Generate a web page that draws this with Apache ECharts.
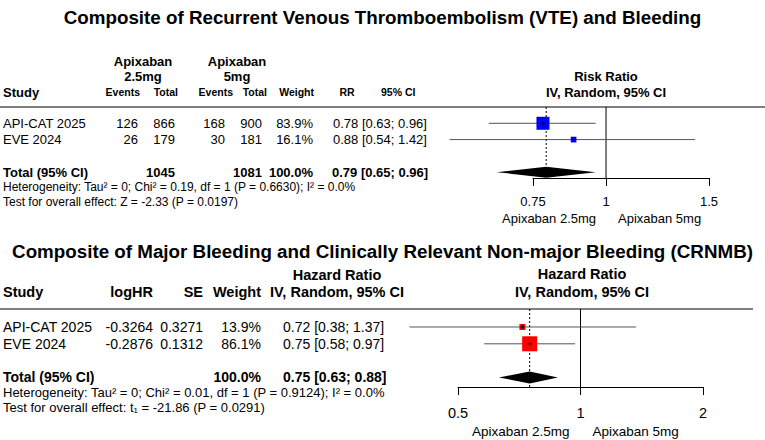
<!DOCTYPE html>
<html lang="en">
<head>
<meta charset="UTF-8">
<title>Apixaban forest plots</title>
<script src="https://cdn.jsdelivr.net/npm/echarts@6/dist/echarts.min.js"></script>
<style>
  html, body { margin: 0; padding: 0; background: #fff; }
  #chart { width: 765px; height: 440px; }
</style>
</head>
<body>
<div id="chart"></div>
<script>
// ---- upper panel: recurrent VTE and bleeding ----
var studies = ['API-CAT 2025', 'EVE 2024'];
var vteEvents25 = [126, 26];
var vteTotal25 = [866, 179];
var vteEvents5 = [168, 30];
var vteTotal5 = [900, 181];
var vteTotals = [1045, 1081];
var vteWeight = [83.9, 16.1];
var vteRR = [0.78, 0.88];
var vteLow = [0.63, 0.54];
var vteHigh = [0.96, 1.42];
var vtePooled = [0.79, 0.65, 0.96]; // est, lower, upper
var vteTicks = [0.75, 1, 1.5];
var vteHet = 'Heterogeneity: Tau² = 0; Chi² = 0.19, df = 1 (P = 0.6630); I² = 0.0%';
var vteTest = 'Test for overall effect: Z = -2.33 (P = 0.0197)';

// ---- lower panel: major bleeding + CRNMB ----
var blLogHR = ['-0.3264', '-0.2876'];
var blSE = ['0.3271', '0.1312'];
var blWeight = [13.9, 86.1];
var blHR = [0.72, 0.75];
var blLow = [0.38, 0.58];
var blHigh = [1.37, 0.97];
var blPooled = [0.75, 0.63, 0.88];
var blTicks = [0.5, 1, 2];
var blHet = 'Heterogeneity: Tau² = 0; Chi² = 0.01, df = 1 (P = 0.9124); I² = 0.0%';
var blTest = 'Test for overall effect: t₁ = -21.86 (P = 0.0291)';

var rows = [1, 2];
var totalRow = 4;
var FONT = '"Liberation Sans", Arial, Helvetica, sans-serif';

function f2(v) { return v.toFixed(2); }
function ciText(e, l, h) { return f2(e) + ' [' + f2(l) + '; ' + f2(h) + ']'; }

var chart = echarts.init(document.getElementById('chart'), null, { renderer: 'svg' });

function studySeries(idx, est, lo, hi, w, color, k) {
  return {
    type: 'custom', xAxisIndex: idx, yAxisIndex: idx, clip: false, z: 5,
    data: est.map(function (e, i) { return [e, rows[i], lo[i], hi[i], w[i]]; }),
    renderItem: function (params, api) {
      var y = api.value(1);
      var c = api.coord([api.value(0), y]);
      var l = api.coord([api.value(2), y]);
      var h = api.coord([api.value(3), y]);
      var s = k * Math.sqrt(api.value(4));
      return {
        type: 'group', children: [
          { type: 'line', shape: { x1: l[0], y1: c[1], x2: h[0], y2: c[1] }, style: { stroke: '#555', lineWidth: 1 } },
          { type: 'rect', shape: { x: c[0] - s / 2, y: c[1] - s / 2, width: s, height: s }, style: { fill: color } },
          { type: 'line', shape: { x1: c[0], y1: c[1] - 2, x2: c[0], y2: c[1] + 2 }, style: { stroke: '#000', lineWidth: 1 } },
          { type: 'line', shape: { x1: c[0] - 2, y1: c[1], x2: c[0] + 2, y2: c[1] }, style: { stroke: '#000', lineWidth: 1 } }
        ]
      };
    }
  };
}

function diamondSeries(idx, pooled, half) {
  return {
    type: 'custom', xAxisIndex: idx, yAxisIndex: idx, clip: false, z: 6,
    data: [[pooled[0], totalRow, pooled[1], pooled[2]]],
    renderItem: function (params, api) {
      var y = api.value(1);
      var c = api.coord([api.value(0), y]);
      var l = api.coord([api.value(2), y]);
      var h = api.coord([api.value(3), y]);
      return {
        type: 'polygon',
        shape: { points: [[l[0], c[1]], [c[0], c[1] - half], [h[0], c[1]], [c[0], c[1] + half]] },
        style: { fill: '#000' }
      };
    }
  };
}

function vline(idx, x, yr, dotted) {
  return {
    type: 'line', xAxisIndex: idx, yAxisIndex: idx, symbol: 'none', silent: true, z: 3,
    data: [[x, yr[0]], [x, yr[1]]],
    lineStyle: { color: '#000', width: 1, type: dotted ? [2, 2] : 'solid' }
  };
}

var yr0 = [0, 4.36];
var yr1 = [-0.07, 4.57];

function xAxisFor(idx, min, max, ticks, size, margin) {
  return {
    type: 'log', gridIndex: idx, min: min, max: max, logBase: 10,
    axisLine: { show: true, onZero: false, lineStyle: { color: '#000', width: 1 } },
    axisTick: { show: true, customValues: ticks, length: 8, lineStyle: { color: '#000' } },
    axisLabel: {
      show: true, customValues: ticks, color: '#000', fontSize: size, fontFamily: FONT, margin: margin,
      formatter: function (v) { return String(+(+v).toPrecision(3)); }
    },
    splitLine: { show: false }, minorTick: { show: false }
  };
}

chart.setOption({
  animation: false,
  title: [
    { text: 'Composite of Recurrent Venous Thromboembolism (VTE) and Bleeding', left: 'center', top: 3,
      textStyle: { fontSize: 18.8, fontWeight: 'bold', color: '#000', fontFamily: FONT } },
    { text: 'Composite of Major Bleeding and Clinically Relevant Non-major Bleeding (CRNMB)', left: 'center', top: 237,
      textStyle: { fontSize: 18.8, fontWeight: 'bold', color: '#000', fontFamily: FONT } }
  ],
  grid: [
    { left: 533, right: 56, top: 107, height: 71 },
    { left: 458, right: 62, top: 309, height: 78 }
  ],
  xAxis: [
    xAxisFor(0, vteTicks[0], vteTicks[2], vteTicks, 13, 17),
    xAxisFor(1, blTicks[0], blTicks[2], blTicks, 14.5, 18)
  ],
  yAxis: [
    { type: 'value', gridIndex: 0, inverse: true, min: yr0[0], max: yr0[1], show: false },
    { type: 'value', gridIndex: 1, inverse: true, min: yr1[0], max: yr1[1], show: false }
  ],
  series: [
    vline(0, 1, yr0, false),
    vline(0, vtePooled[0], yr0, true),
    studySeries(0, vteRR, vteLow, vteHigh, vteWeight, '#0000ff', 1.42),
    diamondSeries(0, vtePooled, 5.5),
    vline(1, 1, yr1, false),
    vline(1, blPooled[0], yr1, true),
    studySeries(1, blHR, blLow, blHigh, blWeight, '#ff0000', 1.62),
    diamondSeries(1, blPooled, 6)
  ]
});

// ---- table text, placed on the rows of each grid ----
function rowY(idx, r) { return chart.convertToPixel({ yAxisIndex: idx }, r); }
function xPix(idx, v) { return chart.convertToPixel({ xAxisIndex: idx }, v); }

var g = [];
function txt(x, y, s, size, bold, align) {
  g.push({
    type: 'text', x: x, y: y, silent: true,
    style: { text: s, fill: '#000', font: (bold ? 'bold ' : '') + size + 'px ' + FONT,
      align: align || 'left', verticalAlign: 'middle' }
  });
}
function hline(x1, x2, y) {
  g.push({ type: 'line', silent: true, shape: { x1: x1, y1: y, x2: x2, y2: y }, style: { stroke: '#000', lineWidth: 1 } });
}

// upper header
txt(143, 61, 'Apixaban', 13, true, 'center');
txt(143, 76, '2.5mg', 13, true, 'center');
txt(237, 61, 'Apixaban', 13, true, 'center');
txt(237, 76, '5mg', 13, true, 'center');
txt(3, 92, 'Study', 13, true);
txt(140, 92, 'Events', 10.5, true, 'right');
txt(178, 92, 'Total', 10.5, true, 'right');
txt(233, 92, 'Events', 10.5, true, 'right');
txt(267, 92, 'Total', 10.5, true, 'right');
txt(314, 92, 'Weight', 10.5, true, 'right');
txt(347, 92, 'RR', 10.5, true, 'center');
txt(381, 92, '95% CI', 10.5, true);
txt(606, 76, 'Risk Ratio', 13, true, 'center');
txt(606, 92, 'IV, Random, 95% CI', 13, true, 'center');
hline(0, 765, 107);

rows.forEach(function (r, i) {
  var y = rowY(0, r);
  txt(3, y, studies[i], 13, false);
  txt(138, y, String(vteEvents25[i]), 13, false, 'right');
  txt(175, y, String(vteTotal25[i]), 13, false, 'right');
  txt(225, y, String(vteEvents5[i]), 13, false, 'right');
  txt(262, y, String(vteTotal5[i]), 13, false, 'right');
  txt(313, y, vteWeight[i].toFixed(1) + '%', 13, false, 'right');
  txt(333, y, ciText(vteRR[i], vteLow[i], vteHigh[i]), 13, false);
});
var ty0 = rowY(0, totalRow);
txt(3, ty0, 'Total (95% CI)', 13, true);
txt(175, ty0, String(vteTotals[0]), 13, true, 'right');
txt(262, ty0, String(vteTotals[1]), 13, true, 'right');
txt(313, ty0, '100.0%', 13, true, 'right');
txt(332, ty0, ciText(vtePooled[0], vtePooled[1], vtePooled[2]), 13, true);
txt(3, ty0 + 15, vteHet, 12, false);
txt(3, ty0 + 30, vteTest, 12, false);
var one0 = xPix(0, 1);
txt(one0 - 10, 218, 'Apixaban 2.5mg', 13, false, 'right');
txt(one0 + 12, 218, 'Apixaban 5mg', 13, false);

// lower header
txt(337, 275, 'Hazard Ratio', 14.5, true, 'center');
txt(3, 292, 'Study', 14.5, true);
txt(153, 292, 'logHR', 14.5, true, 'right');
txt(203, 292, 'SE', 14.5, true, 'right');
txt(261, 292, 'Weight', 14.5, true, 'right');
txt(337, 292, 'IV, Random, 95% CI', 14.5, true, 'center');
txt(582, 274, 'Hazard Ratio', 14.5, true, 'center');
txt(582, 292, 'IV, Random, 95% CI', 14.5, true, 'center');
hline(0, 753, 309);

rows.forEach(function (r, i) {
  var y = rowY(1, r);
  txt(3, y, studies[i], 14, false);
  txt(153, y, blLogHR[i], 14, false, 'right');
  txt(203, y, blSE[i], 14, false, 'right');
  txt(261, y, blWeight[i].toFixed(1) + '%', 14, false, 'right');
  txt(283, y, ciText(blHR[i], blLow[i], blHigh[i]), 14, false);
});
var ty1 = rowY(1, totalRow);
txt(3, ty1, 'Total (95% CI)', 14, true);
txt(261, ty1, '100.0%', 14, true, 'right');
txt(283, ty1, ciText(blPooled[0], blPooled[1], blPooled[2]), 14, true);
txt(3, ty1 + 15, blHet, 13, false);
txt(3, ty1 + 30, blTest, 13, false);
var one1 = xPix(1, 1);
txt(one1 - 11, 431, 'Apixaban 2.5mg', 13.5, false, 'right');
txt(one1 + 12, 431, 'Apixaban 5mg', 13.5, false);

chart.setOption({ graphic: g });
</script>
</body>
</html>
